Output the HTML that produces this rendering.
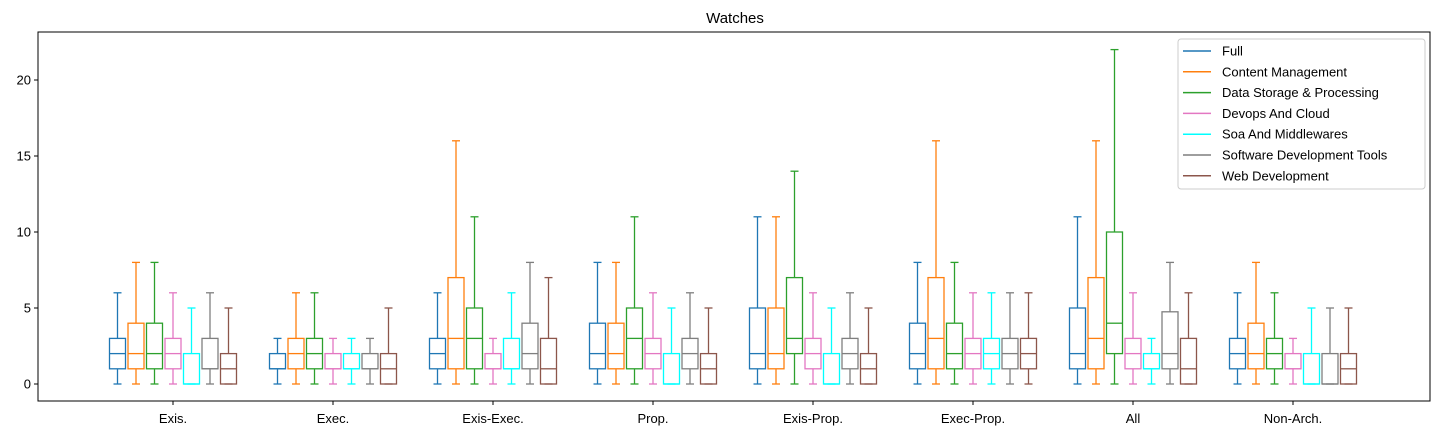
<!DOCTYPE html>
<html><head><meta charset="utf-8"><style>
body{margin:0;background:#fff;}
svg{font-family:"Liberation Sans","DejaVu Sans",sans-serif;}
</style></head><body>
<svg id="chart" width="1442" height="435" xmlns="http://www.w3.org/2000/svg">
<rect x="0" y="0" width="1442" height="435" fill="#fff"/>
<text x="735" y="23" text-anchor="middle" font-size="15">Watches</text>
<g id="plot"></g>
<rect x="38" y="32" width="1392" height="369" fill="none" stroke="#000" stroke-width="1"/>
<g id="legend"></g>
</svg>
<script>
const categories = ["Exis.","Exec.","Exis-Exec.","Prop.","Exis-Prop.","Exec-Prop.","All","Non-Arch."];
const seriesNames = ["Full","Content Management","Data Storage & Processing","Devops And Cloud","Soa And Middlewares","Software Development Tools","Web Development"];
const seriesColors = ["#1f77b4","#ff7f0e","#2ca02c","#e377c2","#00ffff","#7f7f7f","#8c564b"];
const yTicks = [0,5,10,15,20];
// each: [min,q1,median,q3,max] per category
const full = [[0,1,2,3,6],[0,1,1,2,3],[0,1,2,3,6],[0,1,2,4,8],[0,1,2,5,11],[0,1,2,4,8],[0,1,2,5,11],[0,1,2,3,6]];
const contentMgmt = [[0,1,2,4,8],[0,1,2,3,6],[0,1,3,7,16],[0,1,2,4,8],[0,1,2,5,11],[0,1,3,7,16],[0,1,3,7,16],[0,1,2,4,8]];
const dataStorage = [[0,1,2,4,8],[0,1,2,3,6],[0,1,3,5,11],[0,1,3,5,11],[0,2,3,7,14],[0,1,2,4,8],[0,2,4,10,22],[0,1,2,3,6]];
const devops = [[0,1,2,3,6],[0,1,1,2,3],[0,1,1,2,3],[0,1,2,3,6],[0,1,2,3,6],[0,1,2,3,6],[0,1,2,3,6],[0,1,1,2,3]];
const soa = [[0,0,0,2,5],[0,1,1,2,3],[0,1,1,3,6],[0,0,0,2,5],[0,0,0,2,5],[0,1,2,3,6],[0,1,1,2,3],[0,0,0,2,5]];
const swTools = [[0,1,1,3,6],[0,1,1,2,3],[0,1,2,4,8],[0,1,2,3,6],[0,1,2,3,6],[0,1,2,3,6],[0,1,2,4.75,8],[0,0,0,2,5]];
const webDev = [[0,0,1,2,5],[0,0,1,2,5],[0,0,1,3,7],[0,0,1,2,5],[0,0,1,2,5],[0,1,2,3,6],[0,0,1,3,6],[0,0,1,2,5]];
const allSeries = [full,contentMgmt,dataStorage,devops,soa,swTools,webDev];

const NS="http://www.w3.org/2000/svg";
const yScale = v => 384 - 15.2*v;
const xScale = (c,s) => 173 + 160*c + (s-3)*18.5;
const plot=document.getElementById('plot');
const svg=document.getElementById('chart');
function mk(tag,attrs,parent){const e=document.createElementNS(NS,tag);for(const k in attrs)e.setAttribute(k,attrs[k]);parent.appendChild(e);return e;}

yTicks.forEach(t=>{
  const y=yScale(t);
  const l=mk('line',{x1:34,x2:38,y1:y,y2:y,stroke:'#000'},svg);
  
  
  const tx=mk('text',{x:31,y:y+4.5,'text-anchor':'end','font-size':13},svg);
  tx.textContent=t;
  
  
});
categories.forEach((c,i)=>{
  const x=173+160*i;
  const l=mk('line',{x1:x,x2:x,y1:401,y2:405,stroke:'#000'},svg);
  
  
  const tx=mk('text',{x:x,y:423,'text-anchor':'middle','font-size':13},svg);
  tx.textContent=c;
  
  
});
allSeries.forEach((ser,s)=>{
  const col=seriesColors[s];
  ser.forEach((d,c)=>{
    const cx=xScale(c,s), w=16, cw=8;
    const g=mk('g',{stroke:col,'stroke-width':1.3,fill:'none'},plot);
    
    
    mk('line',{x1:cx,x2:cx,y1:yScale(d[0]),y2:yScale(d[1])},g);
    mk('line',{x1:cx,x2:cx,y1:yScale(d[3]),y2:yScale(d[4])},g);
    mk('line',{x1:cx-cw/2,x2:cx+cw/2,y1:yScale(d[0]),y2:yScale(d[0])},g);
    mk('line',{x1:cx-cw/2,x2:cx+cw/2,y1:yScale(d[4]),y2:yScale(d[4])},g);
    mk('rect',{x:cx-w/2,y:yScale(d[3]),width:w,height:yScale(d[1])-yScale(d[3])},g);
    mk('line',{x1:cx-w/2,x2:cx+w/2,y1:yScale(d[2]),y2:yScale(d[2])},g);
  });
});
const lg=document.getElementById('legend');
mk('rect',{x:1178,y:39,width:247,height:150,rx:3,fill:'#fff',stroke:'#ccc'},lg);
seriesNames.forEach((n,i)=>{
  const y=51+20.8*i;
  const l=mk('line',{x1:1183,x2:1211,y1:y,y2:y,stroke:seriesColors[i],'stroke-width':1.5},lg);
  
  
  const t=mk('text',{x:1222,y:y+4.5,'font-size':13},lg);
  t.textContent=n;
  
  
});
</script>
</body></html>
